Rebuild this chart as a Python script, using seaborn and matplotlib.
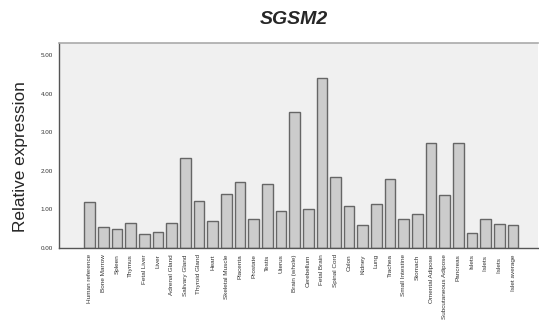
import matplotlib
matplotlib.use("Agg")
import matplotlib.pyplot as plt
import seaborn as sns
import pandas as pd

tissues = ["Human reference", "Bone Marrow", "Spleen", "Thymus", "Fetal Liver", "Liver",
           "Adrenal Gland", "Salivary Gland", "Thyroid Gland", "Heart", "Skeletal Muscle",
           "Placenta", "Prostate", "Testis", "Uterus", "Brain (whole)", "Cerebellum",
           "Fetal Brain", "Spinal Cord", "Colon", "Kidney", "Lung", "Trachea",
           "Small Intestine", "Stomach", "Omental Adipose", "Subcutaneous Adipose",
           "Pancreas", "Islets", "Islets ", "Islets  ", "Islet average"]
expression = [1.19, 0.54, 0.49, 0.66, 0.36, 0.41, 0.66, 2.33, 1.23, 0.71, 1.39,
              1.72, 0.76, 1.67, 0.97, 3.51, 1.01, 4.40, 1.85, 1.10, 0.60, 1.14,
              1.80, 0.75, 0.87, 2.71, 1.36, 2.71, 0.40, 0.74, 0.61, 0.59]
yticks = [0, 1, 2, 3, 4, 5]

df = pd.DataFrame({"tissue": tissues, "expr": expression})

sns.set_style("white")
plt.rcParams['font.family'] = ['Liberation Sans', 'DejaVu Sans']

fig = plt.figure(figsize=(5.39, 3.26), dpi=100)
ax = fig.add_axes([59/539, 1 - 248/326, (538 - 59)/539, (248 - 43)/326])
ax.set_facecolor("#f0f0f0")

sns.barplot(data=df, x="tissue", y="expr", ax=ax, color="#cccccc",
            edgecolor="#666666", linewidth=1.0, width=0.78, saturation=1)

ax.set_xlim(-2.25, 32.83)
ax.set_ylim(0, 5.31)
ax.set_yticks(yticks)
ax.set_yticklabels([f"{v:.2f}" for v in yticks], fontsize=4.5, color="#333333")
ax.set_xticks(range(len(tissues)))
ax.set_xticklabels(tissues, rotation=90, fontsize=4.6, color="#333333", va="top", ha="center")
ax.tick_params(axis="both", direction="out", length=3, width=0.8, color="#444444", pad=1.5)

for s in ["left", "bottom"]:
    ax.spines[s].set_color("#555555")
    ax.spines[s].set_linewidth(1.0)
ax.spines["top"].set_color("#aaaaaa")
ax.spines["top"].set_linewidth(1.2)
ax.spines["right"].set_visible(False)

ax.set_xlabel("")
ax.set_ylabel("Relative expression", fontsize=12.4)
ax.yaxis.set_label_coords(-0.064, (248 - 157) / (248 - 43))
fig.text(294/539, 1 - 20/326, "SGSM2", fontsize=14, fontweight="bold", style="italic",
         ha="center", va="center")

fig.savefig("out.png", dpi=100)
